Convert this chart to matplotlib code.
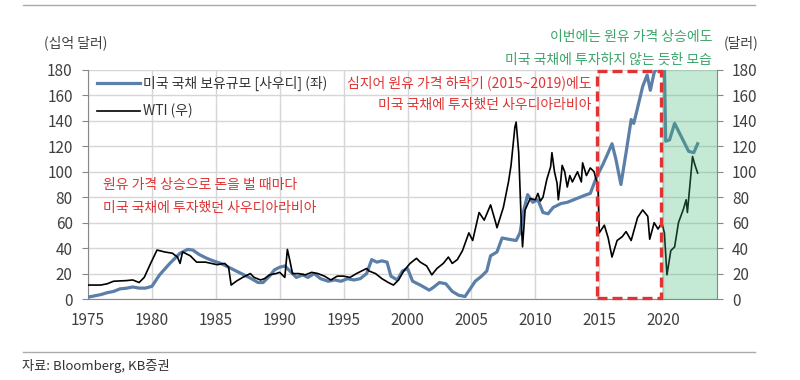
import matplotlib.pyplot as plt
import matplotlib.lines as mlines
import matplotlib.patches as mpatches

plt.rcParams['font.family'] = ['Noto Sans CJK KR', 'DejaVu Sans']

# 사우디 미국 국채 보유규모 (십억 달러, 좌축)
saudi_years = [1975.0, 1975.5, 1976.0, 1976.5, 1977.0, 1977.5, 1978.0, 1978.5, 1979.0, 1979.5,
               1980.0, 1980.6, 1981.4, 1982.2, 1982.8, 1983.2, 1983.7, 1984.3,
               1984.8, 1985.4, 1986.0, 1986.6, 1987.2, 1987.7, 1988.3, 1988.7, 1989.2, 1989.6,
               1990.0, 1990.4, 1990.8, 1991.3, 1991.8, 1992.2, 1992.7, 1993.2, 1993.8, 1994.3,
               1994.8, 1995.3, 1995.8, 1996.3, 1996.8, 1997.2, 1997.6, 1998.0, 1998.4, 1998.7,
               1999.2, 1999.6, 2000.0, 2000.4, 2001.0, 2001.7, 2002.0, 2002.5, 2003.0, 2003.5,
               2004.0, 2004.5, 2004.9, 2005.3, 2005.8, 2006.2, 2006.5, 2007.0, 2007.4, 2007.9,
               2008.5, 2008.8, 2009.1, 2009.4, 2009.8, 2010.2, 2010.6, 2011.0, 2011.4, 2012.0,
               2012.5, 2013.0, 2013.5, 2014.0, 2014.3, 2014.8, 2015.3, 2015.7, 2016.0, 2016.3,
               2016.7, 2017.1, 2017.5, 2017.7, 2017.9, 2018.4, 2018.75, 2019.0, 2019.3, 2019.5,
               2020.1, 2020.2, 2020.5, 2020.9, 2021.3, 2021.7, 2022.0, 2022.4, 2022.7]
saudi_vals = [1.5, 2.5, 3.5, 5, 6, 8, 8.5, 9.5, 8.6, 8.6,
              10, 19, 28, 36, 39, 38.5, 35, 32,
              30, 28, 25, 22, 19, 16.5, 13, 13, 18, 23,
              25, 26, 22, 17, 19, 17, 20, 16, 14, 15,
              14, 16, 15, 16, 20, 31, 29, 30, 29, 18,
              15, 22, 24, 14, 11, 7, 9, 13, 12, 6,
              3, 2, 8, 14, 18, 22, 34, 37, 48, 47,
              46, 52, 70, 82, 76, 78, 68, 67, 72, 75,
              76, 78, 80, 82, 83, 96, 106, 115, 122, 110,
              90, 115, 141, 138, 146, 167, 176, 164, 178, 181,
              184, 124, 125, 138, 130, 122, 116, 115, 122]

# WTI (달러, 우축)
wti_years = [1975.0, 1976.0, 1976.5, 1977.0, 1978.0, 1978.5, 1979.0, 1979.4, 1979.9, 1980.4,
             1981.0, 1981.6, 1982.0, 1982.2, 1982.4, 1983.0, 1983.5, 1984.2, 1985.1, 1985.7,
             1986.0, 1986.2, 1986.6, 1987.1, 1987.7, 1988.0, 1988.5, 1988.8, 1989.2, 1989.7,
             1990.0, 1990.4, 1990.6, 1990.8, 1991.0, 1991.5, 1992.0, 1992.5, 1993.0, 1993.5,
             1994.0, 1994.5, 1995.0, 1995.5, 1996.0, 1996.8, 1997.0, 1997.5, 1998.0, 1998.5,
             1998.9, 1999.3, 1999.7, 2000.2, 2000.7, 2001.0, 2001.5, 2001.9, 2002.3, 2002.8,
             2003.2, 2003.5, 2003.9, 2004.3, 2004.8, 2005.1, 2005.6, 2006.0, 2006.5, 2006.9,
             2007.0, 2007.5, 2007.9, 2008.1, 2008.4, 2008.5, 2008.7, 2008.9, 2009.0, 2009.2,
             2009.6, 2010.0, 2010.2, 2010.4, 2010.6, 2010.9, 2011.2, 2011.3, 2011.5, 2011.7,
             2011.8, 2012.0, 2012.1, 2012.3, 2012.5, 2012.7, 2012.9, 2013.3, 2013.6, 2013.7,
             2014.0, 2014.3, 2014.6, 2014.7, 2014.9, 2015.0, 2015.4, 2015.7, 2016.0, 2016.4,
             2016.8, 2017.1, 2017.5, 2018.0, 2018.4, 2018.8, 2018.95, 2019.3, 2019.6, 2019.9,
             2020.1, 2020.3, 2020.6, 2020.9, 2021.2, 2021.6, 2021.8, 2021.9, 2022.3, 2022.5,
             2022.7]
wti_vals = [11, 11, 12, 14, 14.5, 15, 13, 17, 28, 38.5,
            37, 36, 33, 28, 37, 34, 29, 29, 27, 28,
            25, 11, 14, 17, 20, 17, 15, 16, 19, 20,
            21, 17, 39, 30, 20, 20, 19, 21, 20, 18,
            15, 18, 18, 17, 20, 24, 22, 20, 16, 13,
            11, 15, 22, 28, 32, 29, 26, 19, 24, 28,
            33, 28, 31, 38, 52, 46, 68, 62, 74, 60,
            56, 72, 92, 105, 135, 139, 115, 60, 41, 70,
            79, 78, 83, 77, 80, 94, 104, 115, 100, 91,
            78, 94, 105, 100, 88, 97, 92, 100, 92, 107,
            97, 103, 100, 96, 90, 52, 58, 48, 33, 46,
            49, 53, 46, 64, 70, 65, 47, 60, 55, 60,
            52, 19, 38, 41, 60, 71, 78, 68, 112, 105,
            99]

year_ticks = [1975, 1980, 1985, 1990, 1995, 2000, 2005, 2010, 2015, 2020]
val_ticks = [0, 20, 40, 60, 80, 100, 120, 140, 160, 180]

blue = '#5b7fa8'
red = '#e03434'
green_txt = '#3aa66a'
tick_col = '#404040'

fig = plt.figure(figsize=(8, 3.8), dpi=100)
ax = fig.add_axes([0.11, 0.213, 0.786, 0.603])
ax2 = ax.twinx()

ax.plot(saudi_years, saudi_vals, color=blue, lw=2.3, label='미국 국채 보유규모 [사우디] (좌)', zorder=3)
ax2.plot(wti_years, wti_vals, color='black', lw=1.2, label='WTI (우)', zorder=3)

for a in (ax, ax2):
    a.set_xlim(1975, 2024.2)
    a.set_ylim(0, 180)
    a.set_yticks(val_ticks)
    for s in a.spines.values():
        s.set_visible(False)
    a.tick_params(colors=tick_col, labelsize=11, length=4, color='#888888', pad=7)

ax.spines['left'].set_visible(True)
ax.spines['left'].set_color('#888888')
ax.spines['bottom'].set_visible(True)
ax.spines['bottom'].set_color('#888888')
ax2.spines['right'].set_visible(True)
ax2.spines['right'].set_color('#888888')
ax.set_xticks(year_ticks)
ax.tick_params(axis='x', length=0, pad=9)
ax.grid(True, color='#d6d6d6', lw=1)
ax.set_axisbelow(True)

# 강조 영역
ax2.axvspan(2019.95, 2024.2, color='#3eb973', alpha=0.3, lw=0, zorder=4)
ax2.add_patch(mpatches.Rectangle((2014.85, 0.5), 5.0, 179, fill=False, ec=red, lw=2.4,
                                 ls=(0, (3, 1.5)), clip_on=False, zorder=5))

leg = ax2.legend(handles=[ax.get_lines()[0], ax2.get_lines()[0]], loc='upper left',
                 bbox_to_anchor=(-0.006, 1.03), frameon=False, fontsize=10, handlelength=3.1,
                 handletextpad=0.2, labelspacing=0.95)
for t in leg.get_texts():
    t.set_color('#333333')

ax2.text(1976.2, 89.5, '원유 가격 상승으로 돈을 벌 때마다', color=red, fontsize=10, va='center')
ax2.text(1976.2, 71.5, '미국 국채에 투자했던 사우디아라비아', color=red, fontsize=10, va='center')
ax2.text(2014.4, 170, '심지어 원유 가격 하락기 (2015~2019)에도', color=red, fontsize=10,
         va='center', ha='right')
ax2.text(2014.4, 152.5, '미국 국채에 투자했던 사우디아라비아', color=red, fontsize=10,
         va='center', ha='right')

fig.text(712 / 800, 1 - 37 / 380, '이번에는 원유 가격 상승에도', color=green_txt, fontsize=10,
         ha='right', va='center')
fig.text(712 / 800, 1 - 60 / 380, '미국 국채에 투자하지 않는 듯한 모습', color=green_txt, fontsize=10,
         ha='right', va='center')
fig.text(76 / 800, 1 - 43 / 380, '(십억 달러)', color=tick_col, fontsize=10, ha='center', va='center')
fig.text(741 / 800, 1 - 43 / 380, '(달러)', color=tick_col, fontsize=10, ha='center', va='center')

fig.add_artist(mlines.Line2D([23 / 800, 755 / 800], [1 - 5 / 380, 1 - 5 / 380], color='#aaaaaa', lw=1))
fig.add_artist(mlines.Line2D([23 / 800, 755 / 800], [1 - 352 / 380, 1 - 352 / 380], color='#aaaaaa', lw=1))
fig.text(22 / 800, 1 - 366 / 380, '자료: Bloomberg, KB증권', color='#333333', fontsize=9.5, va='center')

fig.savefig('out.png', dpi=100)
